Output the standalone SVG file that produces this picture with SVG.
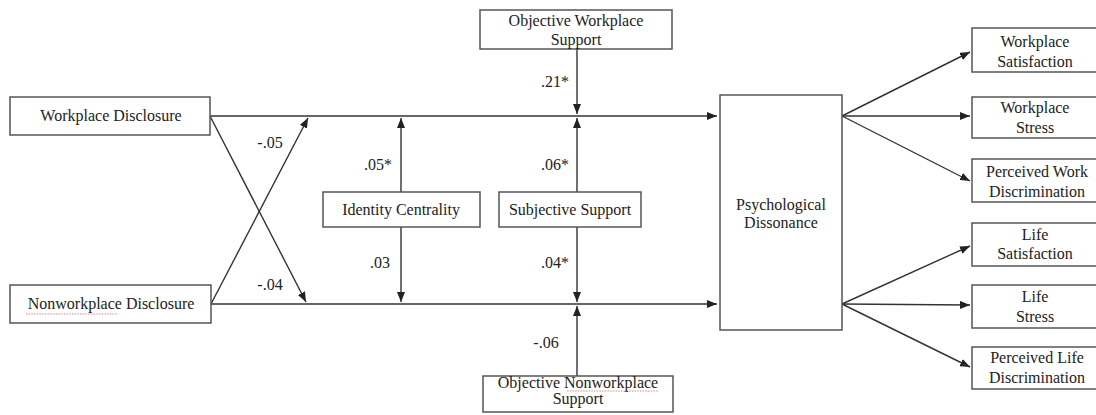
<svg xmlns="http://www.w3.org/2000/svg" width="1096" height="415" viewBox="0 0 1096 415">
<style>
  .box{fill:#fff;stroke:#555;stroke-width:1.5}
  .t{font-family:"Liberation Serif","Times New Roman",serif;font-size:16px;fill:#222;text-anchor:middle}
  .c{fill:none;stroke:#333;stroke-width:1.4}
  .sq{fill:none;stroke:#d66;stroke-width:0.8;stroke-dasharray:1.5 1.2}
</style>
<defs>
  <marker id="ah" viewBox="0 0 10 8" refX="10" refY="4" markerWidth="10" markerHeight="8" markerUnits="userSpaceOnUse" orient="auto">
    <path d="M0,0 L10,4 L0,8 Z" fill="#222"/>
  </marker>
</defs>
<rect width="1096" height="415" fill="#fff"/>

<g id="connectors">
  <path class="c" d="M210,116 L717,116" marker-end="url(#ah)"/>
  <path class="c" d="M722,116 L838,116" marker-end="url(#ah)"/>
  <path class="c" d="M211,304 L717,304" marker-end="url(#ah)"/>
  <path class="c" d="M722,304 L838,304" marker-end="url(#ah)"/>
  <path class="c" d="M210,116 L306,302" marker-end="url(#ah)"/>
  <path class="c" d="M211,304 L308,118" marker-end="url(#ah)"/>
  <path class="c" d="M401,192 L401,118" marker-end="url(#ah)"/>
  <path class="c" d="M401,227 L401,302" marker-end="url(#ah)"/>
  <path class="c" d="M577,192 L577,118" marker-end="url(#ah)"/>
  <path class="c" d="M577,227 L577,302" marker-end="url(#ah)"/>
  <path class="c" d="M577,49 L577,114" marker-end="url(#ah)"/>
  <path class="c" d="M577,376 L577,306" marker-end="url(#ah)"/>
  <path class="c" d="M842,116 L970,52" marker-end="url(#ah)"/>
  <path class="c" d="M842,116 L970,116" marker-end="url(#ah)"/>
  <path class="c" d="M842,116 L970,181" marker-end="url(#ah)"/>
  <path class="c" d="M842,304 L970,246" marker-end="url(#ah)"/>
  <path class="c" d="M842,304 L970,305" marker-end="url(#ah)"/>
  <path class="c" d="M842,304 L970,367" marker-end="url(#ah)"/>
  <text class="t" x="270" y="148">-.05</text>
  <text class="t" x="270" y="290">-.04</text>
  <text class="t" x="378" y="170">.05*</text>
  <text class="t" x="380" y="268">.03</text>
  <text class="t" x="555" y="170">.06*</text>
  <text class="t" x="555" y="268">.04*</text>
  <text class="t" x="555" y="87">.21*</text>
  <text class="t" x="546" y="348">-.06</text>
</g>

<g id="workplace-disclosure">
  <rect class="box" x="10" y="97" width="200" height="38"/>
  <text class="t" x="111" y="121">Workplace Disclosure</text>
</g>
<g id="nonworkplace-disclosure">
  <rect class="box" x="10" y="285" width="201" height="38"/>
  <text class="t" x="111" y="309">Nonworkplace Disclosure</text>
  <path class="sq" d="M26,314 L118,314"/>
</g>
<g id="identity-centrality">
  <rect class="box" x="323" y="192" width="157" height="35"/>
  <text class="t" x="401" y="215">Identity Centrality</text>
</g>
<g id="subjective-support">
  <rect class="box" x="499" y="192" width="142" height="35"/>
  <text class="t" x="570" y="215">Subjective Support</text>
</g>
<g id="objective-workplace-support">
  <rect class="box" x="480" y="10" width="192" height="39"/>
  <text class="t" x="576" y="26">Objective Workplace</text>
  <text class="t" x="576" y="45">Support</text>
</g>
<g id="objective-nonworkplace-support">
  <rect class="box" x="483" y="376" width="190" height="36"/>
  <text class="t" x="578" y="388">Objective Nonworkplace</text>
  <text class="t" x="578" y="404">Support</text>
  <path class="sq" d="M567,391 L658,391"/>
</g>
<g id="psychological-dissonance">
  <rect class="box" x="720" y="95" width="122" height="235"/>
  <text class="t" x="781" y="210">Psychological</text>
  <text class="t" x="781" y="228">Dissonance</text>
</g>
<g id="workplace-satisfaction">
  <rect class="box" x="972" y="28" width="126" height="44"/>
  <text class="t" x="1035" y="47">Workplace</text>
  <text class="t" x="1035" y="67">Satisfaction</text>
</g>
<g id="workplace-stress">
  <rect class="box" x="972" y="97" width="126" height="41"/>
  <text class="t" x="1035" y="113">Workplace</text>
  <text class="t" x="1035" y="133">Stress</text>
</g>
<g id="perceived-work-discrimination">
  <rect class="box" x="972" y="159" width="126" height="43"/>
  <text class="t" x="1037" y="177">Perceived Work</text>
  <text class="t" x="1037" y="197">Discrimination</text>
</g>
<g id="life-satisfaction">
  <rect class="box" x="972" y="223" width="126" height="43"/>
  <text class="t" x="1035" y="240">Life</text>
  <text class="t" x="1035" y="259">Satisfaction</text>
</g>
<g id="life-stress">
  <rect class="box" x="972" y="285" width="126" height="43"/>
  <text class="t" x="1035" y="302">Life</text>
  <text class="t" x="1035" y="322">Stress</text>
</g>
<g id="perceived-life-discrimination">
  <rect class="box" x="972" y="347" width="126" height="42"/>
  <text class="t" x="1037" y="363">Perceived Life</text>
  <text class="t" x="1037" y="383">Discrimination</text>
</g>
</svg>
